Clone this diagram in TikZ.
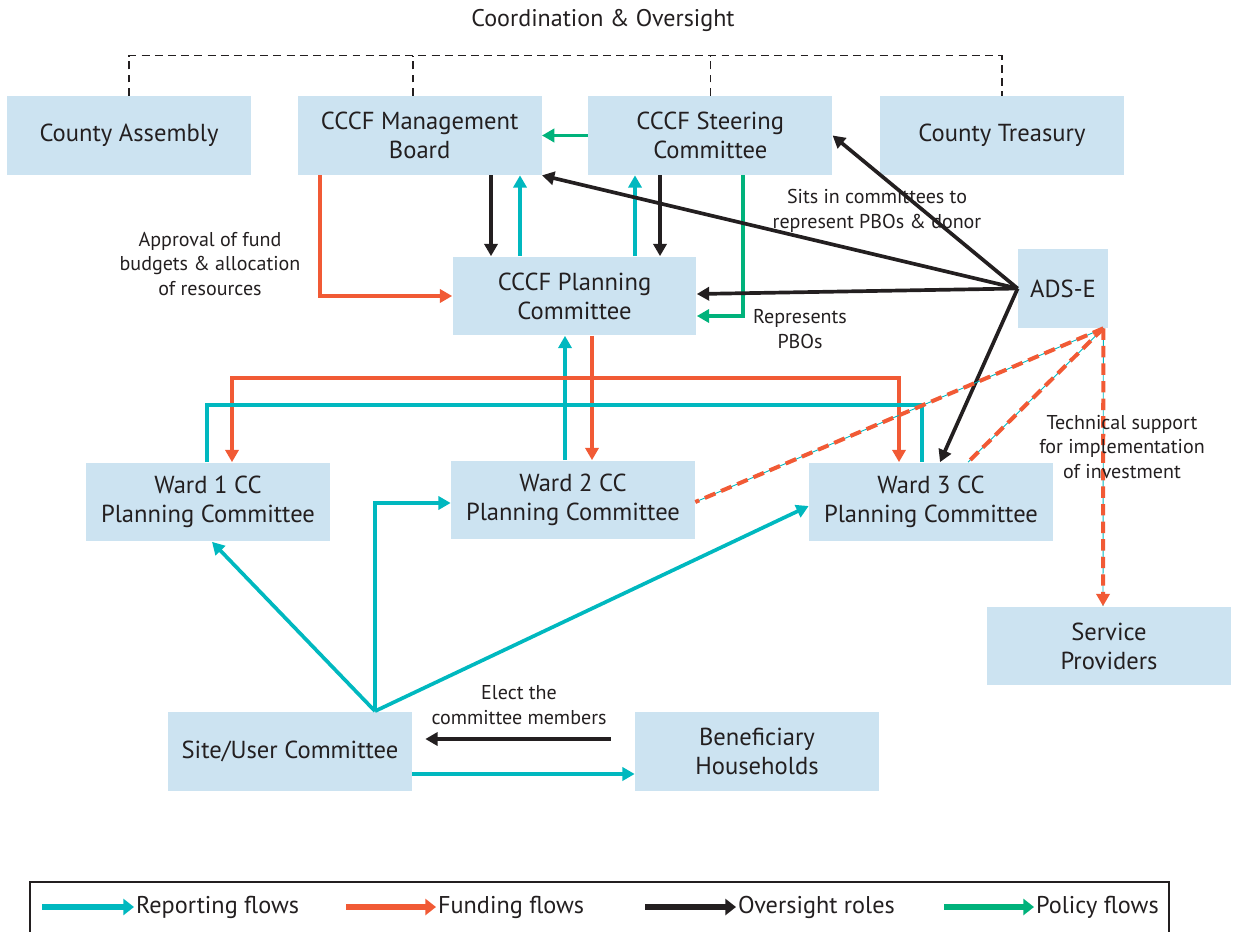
\documentclass[tikz,border=0pt]{standalone}
\usepackage{fontspec}
\setmainfont{PT Sans}
\usetikzlibrary{arrows.meta,positioning,calc}
\definecolor{boxblue}{HTML}{CCE3F1}
\definecolor{repcyan}{HTML}{00B8BF}
\definecolor{fundorange}{HTML}{F15A35}
\definecolor{inkblack}{HTML}{231F20}
\definecolor{policygreen}{HTML}{00B27B}

\begin{document}
\begin{tikzpicture}[
  x=0.02cm, y=-0.02cm,
  box/.style={fill=boxblue, minimum width=4.88cm, minimum height=1.58cm,
              inner sep=0pt, align=center, text=inkblack,
              font=\fontsize{14}{16.5}\selectfont},
  flow/.style={line width=2.1pt, -{Triangle[length=7pt,width=7.5pt]}},
  report/.style={flow, repcyan},
  fund/.style={flow, fundorange},
  oversee/.style={flow, inkblack},
  policy/.style={flow, policygreen},
  coord/.style={inkblack, line width=0.9pt, dash pattern=on 4.5pt off 3pt},
  techline/.style={fundorange, line width=2.3pt, dash pattern=on 6.5pt off 3.5pt,
                   preaction={draw=repcyan, line width=0.5pt, solid, -}},
  lbl/.style={font=\fontsize{11.4}{14}\selectfont, align=center, text=inkblack},
  legtext/.style={font=\fontsize{13.8}{16}\selectfont, text=inkblack, anchor=west, inner sep=1pt},
  legflow/.style={line width=3pt, -{Triangle[length=6pt,width=9pt]}}
]
\useasboundingbox (0,0) rectangle (1236,932);

% top row
\node[font=\fontsize{13.7}{16}\selectfont, text=inkblack] (title) at (603,20) {Coordination \& Oversight};
\node[box] (assembly) at (129,135.5) {County Assembly};
\node[box, right=0.92cm of assembly] (mgmt) {CCCF Management\\Board};
\node[box, right=0.92cm of mgmt] (steer) {CCCF Steering\\Committee};
\node[box, right=0.94cm of steer] (treasury) {County Treasury};

% middle
\node[box] (plan) at (574.5,296) {CCCF Planning\\Committee};
\node[box, minimum width=1.8cm] (adse) at (1063,288.5) {ADS-E};
\node[box] (ward1) at (208,502) {Ward 1 CC\\Planning Committee};
\node[box] (ward2) at (573,500) {Ward 2 CC\\Planning Committee};
\node[box] (ward3) at (931,502) {Ward 3 CC\\Planning Committee};
\node[box] (provider) at (1109,646) {Service\\Providers};
\node[box] (site) at (290,751) {Site/User Committee};
\node[box] (benef) at (757,751) {Beneficiary\\Households};

% coordination & oversight
\draw[coord] (assembly.north) -- ++(0,-40) -| (treasury.north);
\draw[coord] (413,0 |- mgmt.north) -- ++(0,-40);
\draw[coord] (steer.north) -- ++(0,-40);

% county level
\draw[policy] (steer.west) -- (mgmt.east);
\draw[oversee] (491,0 |- mgmt.south) -- (491,0 |- plan.north);
\draw[report] (520,0 |- plan.north) -- (520,0 |- mgmt.south);
\draw[report] (635,0 |- plan.north) -- (635,0 |- steer.south);
\draw[oversee] (660,0 |- steer.south) -- (660,0 |- plan.north);
\draw[policy] (743,0 |- steer.south) |- (plan.east |- 0,316);
\draw[fund] (320,0 |- mgmt.south) |- (plan.west);
\node[lbl] (approval) at (210,264) {Approval of fund\\budgets \& allocation\\of resources};

% ADS-E
\draw[oversee] (adse.west) -- (plan.east |- 0,294);
\draw[oversee] (adse.west) -- (mgmt.south east);
\draw[oversee] (adse.west) -- (steer.east);
\draw[oversee] (adse.west) -- (940,0 |- ward3.north);
\node[lbl] (sits) at (877,211) {Sits in committees to\\represent PBOs \& donor};
\node[lbl] (represents) at (800,329) {Represents\\PBOs};

% wards
\coordinate (fundsplit) at (592,378);
\coordinate (repjoin) at (565,405);
\draw[report] (565,0 |- ward2.north) -- (565,0 |- plan.south);
\draw[fund] (592,0 |- plan.south) -- (592,0 |- ward2.north);
\draw[fund] (fundsplit) -| (232,0 |- ward1.north);
\draw[fund] (fundsplit) -| (899,0 |- ward3.north);
\draw[report, -] (207,0 |- ward1.north) |- (repjoin) -| (922,0 |- ward3.north);

% technical support
\coordinate (techstart) at ([xshift=-0.1cm]adse.south east);
\draw[techline] (techstart) -- (ward2.east |- 0,502);
\draw[techline] (techstart) -- (968,0 |- ward3.north);
\draw[techline, -{Triangle[length=7pt,width=7.5pt]}] (techstart) -- (1103,0 |- provider.north);
\node[lbl] (techsupport) at (1122,447) {Technical support\\for implementation\\of investment};

% site level
\draw[report] (375,0 |- site.north) -- (212,0 |- ward1.south);
\draw[report] (375,0 |- site.north) |- (ward2.west |- 0,503);
\draw[report] (375,0 |- site.north) -- (ward3.west |- 0,506);
\draw[oversee] ([xshift=-0.48cm,yshift=0.24cm]benef.west) -- ([xshift=0.26cm,yshift=0.24cm]site.east);
\node[lbl] (elect) at (519,705) {Elect the\\committee members};
\draw[report] ([yshift=-0.46cm]site.east) -- ([yshift=-0.46cm]benef.west);

% legend
\draw[inkblack, line width=0.6pt] (30,940) |- (1169,882) -- (1169,940);
\draw[inkblack, line width=1.2pt] (30,882) -- (1169,882);
\node[legtext] (legrep) at (134,907) {Reporting flows};
\node[legtext] (legfund) at (436,907) {Funding flows};
\node[legtext] (legover) at (736,907) {Oversight roles};
\node[legtext] (legpol) at (1034,907) {Policy flows};
\draw[legflow, repcyan] (42,907) -- (legrep.west);
\draw[legflow, fundorange] (346,907) -- (legfund.west);
\draw[legflow, inkblack] (645,907) -- (legover.west);
\draw[legflow, policygreen] (944,907) -- (legpol.west);
\end{tikzpicture}
\end{document}
